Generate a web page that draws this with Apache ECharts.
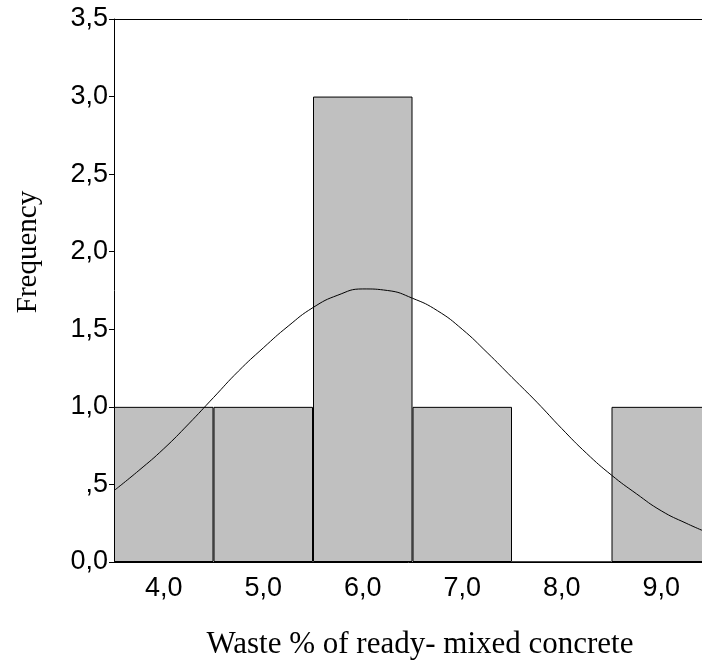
<!DOCTYPE html>
<html>
<head>
<meta charset="utf-8">
<script src="https://cdn.jsdelivr.net/npm/echarts@6/dist/echarts.min.js"></script>
<style>
  html, body { margin: 0; padding: 0; background: #fff; }
  #chart { width: 702px; height: 670px; }
</style>
</head>
<body>
<div id="chart"></div>
<script>
// histogram bins (centres 4,0 ... 9,0, width 1)
const binLabels = ["4,0", "5,0", "6,0", "7,0", "8,0", "9,0"]
const binCounts = [1, 1, 3, 1, 0, 1]

// normal curve
const curveX = [3.5, 3.75, 4.0, 4.25, 4.5, 4.75, 5.0, 5.25, 5.5, 5.75, 6.0, 6.25,
  6.5, 6.75, 7.0, 7.25, 7.5, 7.75, 8.0, 8.25, 8.5, 8.75, 9.0, 9.25, 9.5]
const curveY = [0.46, 0.59, 0.73, 0.89, 1.06, 1.23, 1.38, 1.52, 1.64, 1.72, 1.76, 1.75,
  1.70, 1.62, 1.50, 1.35, 1.19, 1.03, 0.86, 0.70, 0.56, 0.44, 0.33, 0.25, 0.18]

const yTickLabels = ["0,0", ",5", "1,0", "1,5", "2,0", "2,5", "3,0", "3,5"]

const myE = echarts.init(document.getElementById("chart"))

const tickFont = {
  color: "#000",
  fontFamily: "Liberation Sans, Arial, sans-serif",
  fontSize: 27,
}

let option = {
  animation: false,
  grid: {
    left: 114,
    top: 19,
    width: 597,
    height: 543,
    outerBoundsMode: "none", // the last bar runs past the right edge
  },
  xAxis: [
    {
      type: "category",
      data: binLabels,
      position: "bottom",
      axisLine: { lineStyle: { color: "#000", width: 1 } },
      axisTick: { alignWithLabel: true, length: 5, lineStyle: { color: "#000" } },
      axisLabel: Object.assign({ margin: 13 }, tickFont),
      splitLine: { show: false },
    },
    {
      type: "value",
      min: 3.5,
      max: 9.5,
      position: "top",
      axisLine: { show: true, lineStyle: { color: "#000", width: 1 } },
      axisTick: { show: false },
      axisLabel: { show: false },
      splitLine: { show: false },
    },
  ],
  yAxis: {
    type: "value",
    min: 0,
    max: 3.5,
    interval: 0.5,
    axisLine: { show: true, lineStyle: { color: "#000", width: 1 } },
    axisTick: { show: true, length: 5, lineStyle: { color: "#000" } },
    axisLabel: Object.assign({
      margin: 6,
      formatter: (v) => yTickLabels[Math.round(v / 0.5)],
    }, tickFont),
    splitLine: { show: false },
  },
  series: [
    {
      type: "bar",
      xAxisIndex: 0,
      data: binCounts,
      barWidth: "100%",
      itemStyle: {
        color: "#c0c0c0",
        borderColor: "#000",
        borderWidth: 1,
      },
    },
    {
      type: "line",
      xAxisIndex: 1,
      data: curveX.map((x, i) => [x, curveY[i]]),
      smooth: true,
      symbol: "none",
      lineStyle: { color: "#000", width: 1 },
      z: 5,
    },
  ],
  graphic: [
    {
      type: "text",
      x: 28,
      y: 252,
      rotation: Math.PI / 2,
      style: {
        text: "Frequency",
        fill: "#000",
        font: "29px 'Liberation Serif', 'Times New Roman', serif",
        align: "center",
        verticalAlign: "middle",
      },
    },
    {
      type: "text",
      x: 420,
      y: 645,
      style: {
        text: "Waste % of ready- mixed concrete",
        fill: "#000",
        font: "31px 'Liberation Serif', 'Times New Roman', serif",
        align: "center",
        verticalAlign: "middle",
      },
    },
  ],
}
myE.setOption(option)
window.addEventListener("resize", () => {
  myE.resize()
})
</script>
</body>
</html>
